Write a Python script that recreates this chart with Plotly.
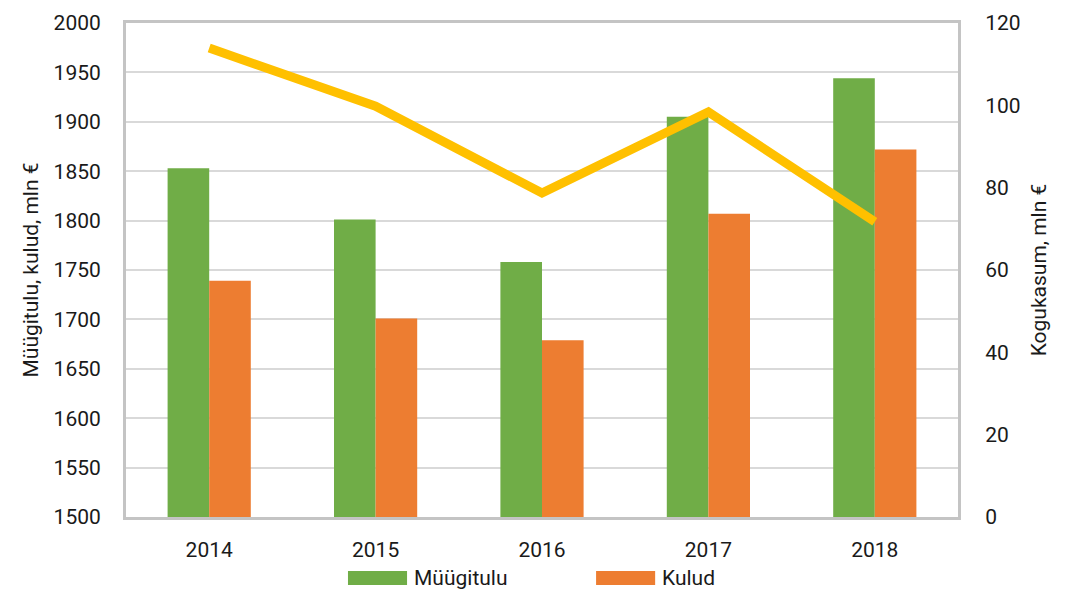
import plotly.graph_objects as go

years = ['2014', '2015', '2016', '2017', '2018']
myygitulu = [1853, 1801, 1758, 1905, 1944]
kulud = [1739, 1701, 1679, 1807, 1872]
kogukasum = [113.9, 99.8, 78.7, 98.4, 71.7]

green = '#70AD47'
orange = '#ED7D31'
font = 'Roboto'

fig = go.Figure()
fig.add_trace(go.Bar(x=years, y=myygitulu, name='Müügitulu', marker_color=green,
                     marker_line_width=0))
fig.add_trace(go.Bar(x=years, y=kulud, name='Kulud', marker_color=orange,
                     marker_line_width=0))
fig.add_trace(go.Scatter(x=years, y=kogukasum, name='Kogukasum', yaxis='y2',
                         mode='lines', line=dict(color='#FFC000', width=9)))

# legend drawn by hand so the swatches are wide like in the original
legend_items = [('Müügitulu', green, 0.2668), ('Kulud', orange, 0.565)]
for label, col, x0 in legend_items:
    fig.add_shape(type='rect', xref='paper', yref='paper', x0=x0, x1=x0 + 0.071,
                  y0=-0.1377, y1=-0.1093, fillcolor=col, line_width=0)
    fig.add_annotation(text=label, xref='paper', yref='paper', x=x0 + 0.077, y=-0.1235,
                       xanchor='left', yanchor='middle', showarrow=False,
                       font=dict(size=21))

# the page body adds an 8px offset, so the figure is 8px smaller
fig.update_layout(
    width=1061, height=583,
    margin=dict(l=118, r=111, t=15, b=74),
    paper_bgcolor='white', plot_bgcolor='white',
    font=dict(family=font, size=21, color='#1a1a1a'),
    barmode='group', bargap=0.5, bargroupgap=0,
    showlegend=False,
    xaxis=dict(showline=True, linecolor='#c4c4c4', linewidth=3, mirror=True,
               ticks='', ticklabelstandoff=12, automargin=False),
    yaxis=dict(range=[1500, 2000], dtick=50, showgrid=True, gridcolor='#d9d9d9',
               gridwidth=2, showline=True, linecolor='#c4c4c4', linewidth=3,
               ticklabelstandoff=18, zeroline=False, automargin=False,
               title=dict(text='Müügitulu, kulud, mln €', font=dict(size=21), standoff=10)),
    yaxis2=dict(range=[0, 120], dtick=20, overlaying='y', side='right', showgrid=False,
                showline=True, linecolor='#c4c4c4', linewidth=3, zeroline=False,
                ticklabelstandoff=20, automargin=False,
                title=dict(text='Kogukasum, mln €', font=dict(size=21), standoff=12)),
)

fig.write_html('out.html')
